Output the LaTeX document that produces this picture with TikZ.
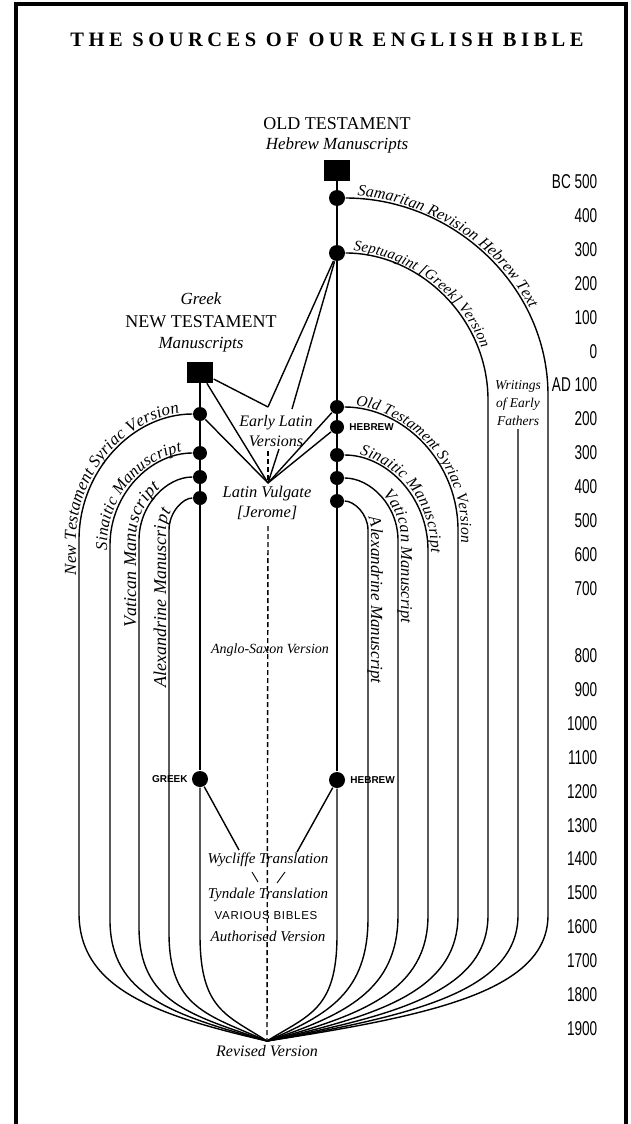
\documentclass[tikz,border=0pt]{standalone}
\usepackage{fontspec}
\setmainfont{Liberation Serif}
\newfontfamily\datefont[FakeStretch=0.68]{Liberation Sans}
\newfontfamily\capfont{Liberation Sans}
\newfontfamily\titlefont[LetterSpace=22]{Liberation Serif}
\usetikzlibrary{positioning,decorations.text}

\newcommand\lblfont[1]{\itshape\fontsize{#1}{20}\selectfont}

\begin{document}
\begin{tikzpicture}[
  x=1pt, y=-1pt,
  line width=1.4pt,
  bead/.style={circle, fill=black, inner sep=0pt, minimum size=14pt},
  bigbead/.style={bead, minimum size=16pt},
  mss/.style={fill=black, inner sep=0pt, minimum width=26pt, minimum height=21pt},
  heading/.style={font=\fontsize{18}{18}\selectfont, inner sep=0pt},
  ital/.style={font=\lblfont{#1}, inner sep=0pt, align=center},
  capslbl/.style={font=\capfont\bfseries\fontsize{10}{10}\selectfont, inner sep=1pt},
  datelbl/.style={font=\datefont\fontsize{20}{20}\selectfont, anchor=east, inner sep=0pt},
  curvelbl/.style={decorate, decoration={text along path, raise=3pt, text align={left indent=#1}}},
  dashline/.style={dash pattern=on 5pt off 3pt},
  thin link/.style={line width=0.9pt}
]
\useasboundingbox (0,0) rectangle (631,1124);
\draw[line width=4pt] (16,1124) -- (16,4) -- (626,4) -- (626,1124);

\node[font=\titlefont\bfseries\fontsize{20.5}{20.5}\selectfont] (title) at (327,40) {THE SOURCES OF OUR ENGLISH BIBLE};

% old testament column
\node[heading] (ot) at (337,124) {OLD TESTAMENT};
\node[ital=17, below=6pt of ot] (otms) {Hebrew Manuscripts};
\node[mss] (ots) at (337,170) {};
\node[bigbead] (sam) at (337,198) {};
\node[bigbead] (sept) at (337,253) {};
\node[bead] (osyr) at (337,407) {};
\node[bead] (heb) at (337,427) {};
\node[bead] (osin) at (337,455) {};
\node[bead] (ovat) at (337,478) {};
\node[bead] (oalx) at (337,501) {};
\node[bigbead] (hebb) at (337,780) {};
\node[capslbl, right=3pt of heb] {HEBREW};
\node[capslbl, right=3pt of hebb] {HEBREW};

% new testament column
\node[heading] (nt) at (201,322) {NEW TESTAMENT};
\node[ital=17, above=10pt of nt] (greek) {Greek};
\node[ital=17, below=8pt of nt] (ntms) {Manuscripts};
\node[mss] (nts) at (200,372) {};
\node[bead] (nsyr) at (200,414) {};
\node[bead] (nsin) at (200,453) {};
\node[bead] (nvat) at (200,477) {};
\node[bead] (nalx) at (200,498) {};
\node[bigbead] (grk) at (200,779) {};
\node[capslbl, left=2pt of grk] {GREEK};

% middle
\coordinate (elv) at (268,407);
\coordinate (elr) at (292,409);
\node[ital=16] (elat) at (276,431) {Early Latin\\Versions};
\coordinate (elb) at (279,449);
\coordinate (eld) at (268,451);
\coordinate (lv) at (268,483);
\node[ital=16.4] (vulg) at (267,503) {Latin Vulgate\\{[}Jerome]};
\coordinate (vd) at (268,526);
\node[ital=14] (anglo) at (270,650) {Anglo-Saxon Version};
\node[ital=15] (wyc) at (268,860) {Wycliffe Translation};
\node[ital=15] (tyn) at (268,895) {Tyndale Translation};
\node[font=\capfont\fontsize{11.5}{12}\selectfont\addfontfeatures{LetterSpace=6}, inner sep=0pt] (var) at (266,916) {VARIOUS BIBLES};
\node[ital=15] (auth) at (268,936) {Authorised Version};
\coordinate (rv) at (267,1041);
\node[ital=16, below=4pt of rv] (revised) {Revised Version};
\node[font=\itshape\fontsize{13.5}{18}\selectfont, align=center, inner sep=3pt] (wef) at (518,403) {Writings\\of Early\\Fathers};

% dates
\foreach \yr/\k in {BC 500/0,400/1,300/2,200/3,100/4,0/5,AD 100/6,200/7,300/8,400/9,500/10,600/11,700/12,800/14,900/15,1000/16,1100/17,1200/18,1300/19,1400/20,1500/21,1600/22,1700/23,1800/24,1900/25}
  \node[datelbl] (yr\k) at (598,{182+33.85*\k}) {\yr};

% trunks
\draw (ots) -- (hebb);
\draw (hebb) -- (337,935) .. controls (337,1010) and (308.6,1015) .. (rv);
\draw (nts) -- (grk);
\draw (grk) -- (200,935) .. controls (200,1010) and (226.8,1015) .. (rv);
\draw (wef.south) -- (518,915) .. controls (518,990) and (417,1015) .. (rv);

% branches
\foreach \d/\xd/\yd/\xv/\ya/\yb in {sam/337/198/548/395/915, sept/337/253/488/400/915,
    osyr/337/407/458/530/915, osin/337/455/428/550/915, ovat/337/478/398/540/915,
    oalx/337/501/368/530/918, nsyr/200/414/79/540/913, nsin/200/453/110/545/920,
    nvat/200/477/139/540/927, nalx/200/498/169/530/933}
  \draw (\d) .. controls ({\xd+0.552*(\xv-\xd)},\yd) and (\xv,{\ya-0.552*(\ya-\yd)}) .. (\xv,\ya)
    -- (\xv,\yb) .. controls (\xv,{\yb+75}) and ({\xv+0.4*(267-\xv)},1015) .. (rv);

% latin links
\draw (sept) -- (elv);
\draw (sept) -- (elr);
\draw (nts) -- (elv);
\draw (nts) -- (lv);
\draw (nsyr) -- (lv);
\draw (osyr) -- (lv);
\draw (heb) -- (lv);
\draw (elb) -- (lv);
\draw[dashline] (eld) -- (lv);
\draw[dashline] (vd) -- (rv);

% english versions
\coordinate (wyl) at (239,850);
\coordinate (wyr) at (297,852);
\draw (grk) -- (wyl);
\draw (hebb) -- (wyr);
\coordinate (ty1) at (252,872);
\coordinate (ty2) at (258,882);
\coordinate (ty3) at (285,872);
\coordinate (ty4) at (277,883);
\draw[thin link] (ty1) -- (ty2);
\draw[thin link] (ty3) -- (ty4);

% labels along the branches
\path[curvelbl=20pt, decoration={text={|\lblfont{16}|Samaritan Revision Hebrew Text}}]
  (337,198) .. controls (453.5,198) and (548,286) .. (548,395) -- (548,520);
\path[curvelbl=16pt, decoration={text={|\lblfont{15}|Septuagint [Greek] Version}}]
  (337,253) .. controls (420.4,253) and (488,318.9) .. (488,400) -- (488,520);
\path[curvelbl=18pt, decoration={text={|\lblfont{15.5}|Old Testament Syriac Version}}]
  (337,407) .. controls (403.8,407) and (458,462.1) .. (458,530) -- (458,700);
\path[curvelbl=22pt, decoration={text={|\lblfont{16}|Sinaitic Manuscript}}]
  (337,455) .. controls (387.2,455) and (428,497.6) .. (428,550) -- (428,700);
\path[curvelbl=48pt, decoration={text={|\lblfont{16.5}|Vatican Manuscript}}]
  (337,478) .. controls (370.7,478) and (398,505.8) .. (398,540) -- (398,720);
\path[curvelbl=35pt, decoration={text={|\lblfont{17}|Alexandrine Manuscript}}]
  (337,501) .. controls (354.1,501) and (368,514) .. (368,530) -- (368,780);
\path[curvelbl=25pt, decoration={text={|\lblfont{17}|New Testament Syriac Version}}]
  (79,600) -- (79,540) .. controls (79,470.4) and (133.2,414) .. (200,414);
\path[curvelbl=50pt, decoration={text={|\lblfont{16.5}|Sinaitic Manuscript}}]
  (110,600) -- (110,545) .. controls (110,494.2) and (150.3,453) .. (200,453);
\path[curvelbl=73pt, decoration={text={|\lblfont{18}|Vatican Manuscript}}]
  (139,700) -- (139,540) .. controls (139,505.2) and (166.3,477) .. (200,477);
\path[curvelbl=33pt, decoration={text={|\lblfont{18}|Alexandrine Manuscript}}]
  (169,720) -- (169,530) .. controls (169,512.3) and (182.9,498) .. (200,498);
\end{tikzpicture}
\end{document}
